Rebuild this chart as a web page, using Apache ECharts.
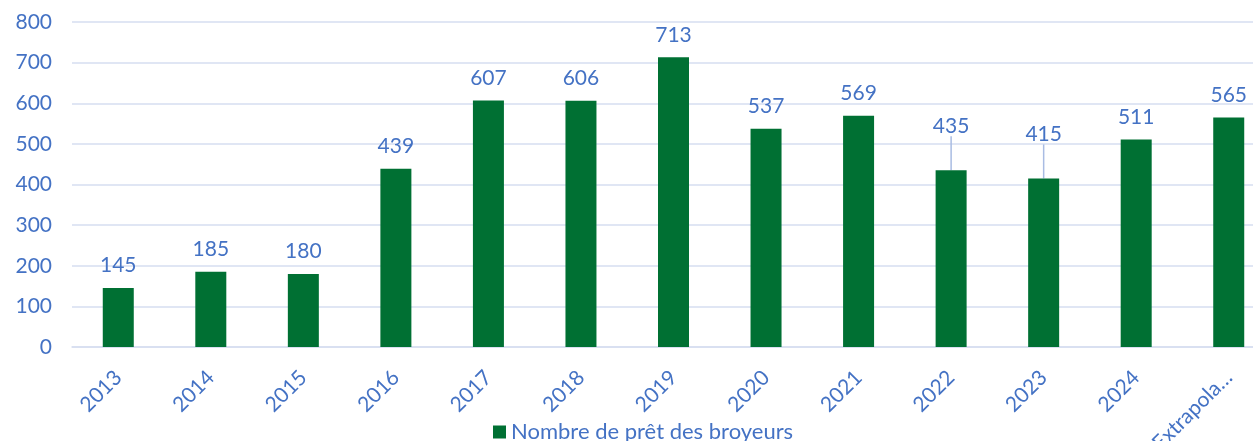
<!DOCTYPE html>
<html>
<head>
<meta charset="utf-8">
<script src="https://cdn.jsdelivr.net/npm/echarts@6/dist/echarts.min.js"></script>
<style>
  html, body { margin: 0; padding: 0; background: #fff; }
  #container { width: 1253px; height: 441px; }
</style>
</head>
<body>
<div id="container"></div>
<script>
// données
var annees = ['2013', '2014', '2015', '2016', '2017', '2018', '2019', '2020', '2021', '2022', '2023', '2024', 'Extrapolation'];
var prets = [145, 185, 180, 439, 607, 606, 713, 537, 569, 435, 415, 511, 565];
var yTicks = [0, 100, 200, 300, 400, 500, 600, 700, 800];
var nomSerie = 'Nombre de prêt des broyeurs';
// étiquettes décalées vers le haut (avec trait)
var decales = [9, 10];

var blue = '#4472C4';
var font = 'Lato, "Open Sans", sans-serif';

var barData = prets.map(function (v, i) {
  var item = { value: v };
  if (decales.indexOf(i) >= 0) {
    item.labelLine = { show: true };
  }
  return item;
});

var myChart = echarts.init(document.getElementById('container'));
var option = {
  animation: false,
  textStyle: { fontFamily: font },
  grid: { left: 72, right: -22, top: 22, bottom: 94, outerBoundsMode: 'none', containLabel: false },
  legend: {
    data: [nomSerie],
    left: 488,
    top: 416,
    icon: 'rect',
    itemWidth: 13,
    itemHeight: 13,
    itemGap: 8,
    textStyle: { color: blue, fontSize: 22, fontFamily: font }
  },
  xAxis: {
    type: 'category',
    data: annees,
    axisLine: { lineStyle: { color: '#D6DEF0', width: 1.5 } },
    axisTick: { show: false },
    axisLabel: {
      color: blue,
      fontSize: 21,
      rotate: 45,
      margin: 27,
      interval: 0,
      formatter: function (v) {
        return v.length > 9 ? v.slice(0, 9) + '…' : v;
      }
    }
  },
  yAxis: {
    type: 'value',
    min: yTicks[0],
    max: yTicks[yTicks.length - 1],
    interval: 100,
    axisLine: { show: false },
    axisTick: { show: false },
    splitLine: { lineStyle: { color: '#D6DEF0', width: 1.5 } },
    axisLabel: { color: blue, fontSize: 21, margin: 20 }
  },
  series: [{
    name: nomSerie,
    type: 'bar',
    data: barData,
    barWidth: 31,
    itemStyle: { color: '#007033' },
    label: {
      show: true,
      position: 'top',
      distance: 12,
      color: blue,
      fontSize: 21
    },
    labelLine: {
      show: false,
      lineStyle: { color: '#A9BCE3', width: 1.5 }
    },
    labelLayout: function (params) {
      if (decales.indexOf(params.dataIndex) >= 0) {
        return { dy: -22 };
      }
      return {};
    }
  }]
};
myChart.setOption(option);
</script>
</body>
</html>
